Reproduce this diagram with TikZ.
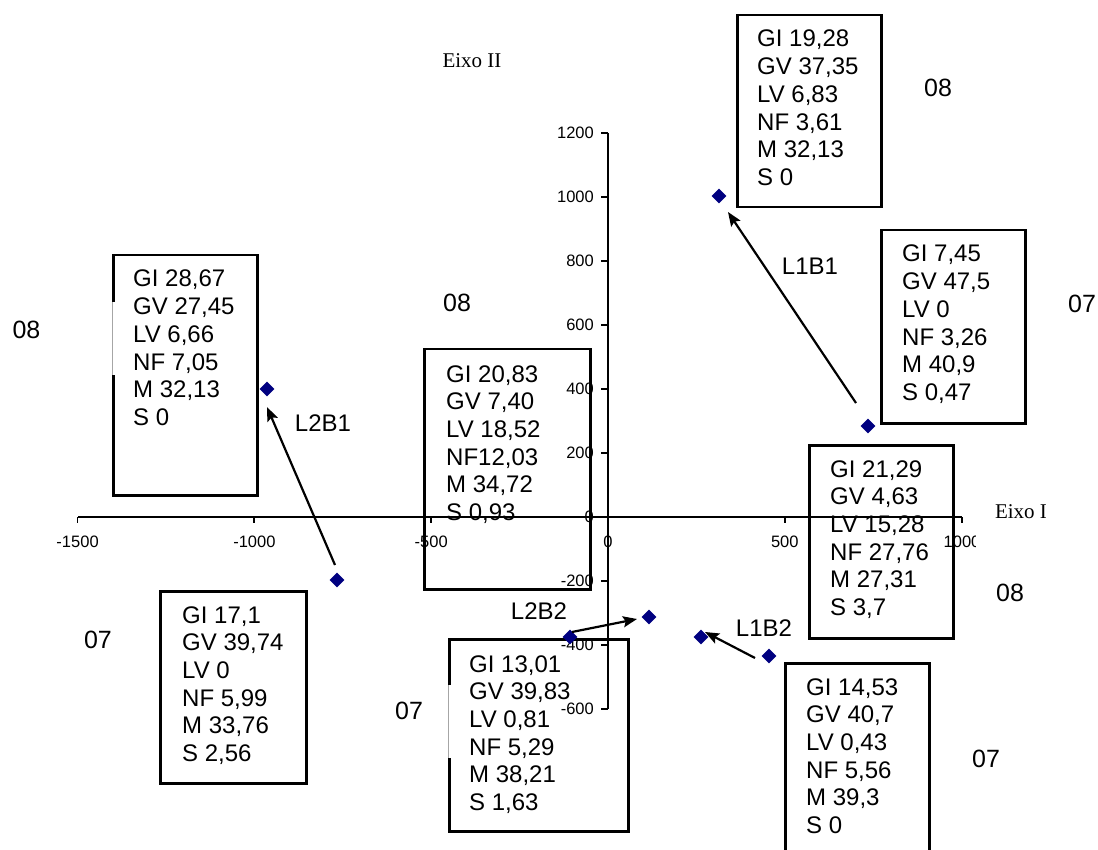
\documentclass[tikz,border=0pt]{standalone}
\usepackage{fontspec}
\setmainfont{Liberation Sans}
\newfontfamily\eixofont{Liberation Serif}
\usetikzlibrary{shapes.geometric,arrows.meta,calc}
\definecolor{navy}{RGB}{0,0,128}
\newcommand{\vals}[6]{\begin{tabular}[t]{@{}l@{}}#1\\#2\\#3\\#4\\#5\\#6\end{tabular}}
\begin{document}
\begin{tikzpicture}[x=1pt,y=-1pt,
  box/.style={draw=black,line width=2.5pt,inner sep=0pt,anchor=north west},
  boxtxt/.style={anchor=base west,inner sep=0pt,font=\fontsize{24}{27.7}\selectfont},
  lab/.style={inner sep=0pt,font=\fontsize{25}{30}\selectfont},
  arlab/.style={inner sep=0pt,font=\fontsize{24}{28}\selectfont},
  ticklab/.style={inner sep=0pt,font=\fontsize{16.5}{19}\selectfont},
  axtitle/.style={inner sep=0pt,font=\eixofont\fontsize{21}{25}\selectfont},
  axisline/.style={line width=2.2pt,black},
  mk/.style={diamond,fill=navy,inner sep=0pt,minimum size=15pt},
  arr/.style={line width=2.2pt,-{Stealth[length=14pt,width=11pt,inset=2.5pt]}}
]
\useasboundingbox (0,0) rectangle (1098,850);
\clip (0,0) rectangle (1098,850);

% axes
\draw[axisline] (78,517) -- (962,517);
\draw[axisline] (608,133) -- (608,709);
\foreach \v in {-1500,-1000,-500,0,500,1000}
  \draw[line width=1.8pt] ({608+0.35360*\v},517) -- ({608+0.35360*\v},523);
\foreach \v in {-600,-400,...,1200}
  \draw[line width=1.8pt] (601,{517-0.32*\v}) -- (608,{517-0.32*\v});
\foreach \v in {-1500,-1000,-500,0,500}
  \node[ticklab] (xl\v) at ({608+0.35360*\v},542) {\v};
\begin{scope}
  \clip (0,0) rectangle (975,850);
  \node[ticklab] (xl1000) at (962,542) {1000};
\end{scope}
\foreach \v in {-600,-400,...,1200}
  \node[ticklab,anchor=east] (yl\v) at (594,{517-0.32*\v}) {\v};

\node[axtitle] (eixoII) at (472,61) {Eixo II};
\node[axtitle] (eixoI) at (1021,512) {Eixo I};

% data boxes
\node[box,minimum width=144pt,minimum height=240pt] (A) at (112,254) {};
\node[boxtxt] (At) at (133,287) {\vals{GI 28,67}{GV 27,45}{LV 6,66}{NF 7,05}{M 32,13}{S 0}};
\node[box,minimum width=166pt,minimum height=240pt] (B) at (423,348) {};
\node[boxtxt] (Bt) at (446,382) {\vals{GI 20,83}{GV 7,40}{LV 18,52}{NF12,03}{M 34,72}{S 0,93}};
\node[box,minimum width=144pt,minimum height=192pt] (C) at (736,14) {};
\node[boxtxt] (Ct) at (757,47) {\vals{GI 19,28}{GV 37,35}{LV 6,83}{NF 3,61}{M 32,13}{S 0}};
\node[box,minimum width=144pt,minimum height=193pt] (D) at (880,229) {};
\node[boxtxt] (Dt) at (902,262) {\vals{GI 7,45}{GV 47,5}{LV 0}{NF 3,26}{M 40,9}{S 0,47}};
\node[box,minimum width=144pt,minimum height=193pt] (E) at (808,444) {};
\node[boxtxt] (Et) at (830,477) {\vals{GI 21,29}{GV 4,63}{LV 15,28}{NF 27,76}{M 27,31}{S 3,7}};
\node[box,minimum width=144pt,minimum height=210pt] (F) at (784,662) {};
\node[boxtxt] (Ft) at (806,695) {\vals{GI 14,53}{GV 40,7}{LV 0,43}{NF 5,56}{M 39,3}{S 0}};
\node[box,minimum width=179pt,minimum height=192pt] (G) at (448,638) {};
\node[boxtxt] (Gt) at (469,672) {\vals{GI 13,01}{GV 39,83}{LV 0,81}{NF 5,29}{M 38,21}{S 1,63}};
\node[box,minimum width=146pt,minimum height=192pt] (H) at (159,590) {};
\node[boxtxt] (Ht) at (182,623) {\vals{GI 17,1}{GV 39,74}{LV 0}{NF 5,99}{M 33,76}{S 2,56}};

% gaps left by the year labels
\fill[white] (100,302) rectangle (124,375);
\draw[gray!70,line width=0.6pt] (112,302) -- (112,375);
\fill[white] (436,685) rectangle (460,758);
\draw[gray!70,line width=0.6pt] (448,685) -- (448,758);

% year labels
\node[lab] (y1) at (26.5,329.5) {08};
\node[lab] (y2) at (457,303) {08};
\node[lab] (y3) at (938,87.5) {08};
\node[lab] (y4) at (1082,304) {07};
\node[lab] (y5) at (1010,592.5) {08};
\node[lab] (y6) at (986,759) {07};
\node[lab] (y7) at (98,640) {07};
\node[lab] (y8) at (409,711) {07};

% points
\node[mk] (p1) at (267,389) {};
\node[mk] (p2) at (337,580) {};
\node[mk] (p3) at (868,426) {};
\node[mk] (p4) at (719,196) {};
\node[mk] (p5) at (570,637) {};
\node[mk] (p6) at (649,617) {};
\node[mk] (p7) at (701,637) {};
\node[mk] (p8) at (769,656) {};

% arrows
\draw[arr] ($(p2)+(-2,-15)$) -- ($(p1)+(0,18)$);
\draw[arr] ($(p3)+(-12,-23)$) -- ($(p4)+(9,16)$);
\draw[arr] ($(p5)+(2,-5)$) -- ($(p6)+(-12,2)$);
\draw[arr] ($(p8)+(-14,2)$) -- ($(p7)+(4,-5)$);

% arrow labels
\node[arlab] (l1b1) at (810,266) {L1B1};
\node[arlab] (l2b1) at (323,423) {L2B1};
\node[arlab] (l2b2) at (539,611) {L2B2};
\node[arlab] (l1b2) at (764,628) {L1B2};
\end{tikzpicture}
\end{document}
